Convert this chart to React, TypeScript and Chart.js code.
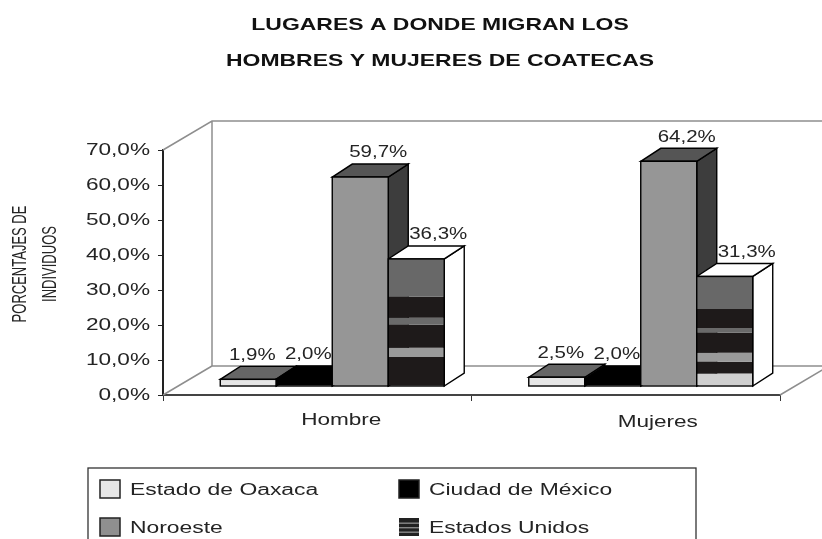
import React, { useEffect, useRef } from "react";
import { Chart, registerables } from "chart.js";

Chart.register(...registerables);

const categories = ["Hombre", "Mujeres"];
const yTickValues = [0, 10, 20, 30, 40, 50, 60, 70];
const oaxaca = [1.9, 2.5];
const ciudadMexico = [2.0, 2.0];
const noroeste = [59.7, 64.2];
// Estados Unidos is printed in bands; the band heights add up to the labelled totals
const usBase = [0, 3.6];
const usBand1 = [8.3, 3.3];
const usBand2 = [2.6, 2.6];
const usBand3 = [6.6, 5.7];
const usBand4 = [2.0, 1.4];
const usBand5 = [6.0, 5.4];
const usBand6 = [10.8, 9.3];
const usTotals = [36.3, 31.3];
const titleLines = ["LUGARES A DONDE MIGRAN LOS", "HOMBRES Y MUJERES DE COATECAS"];
const yTitleLines = ["PORCENTAJES DE", "INDIVIDUOS"];

const FONT = '"Liberation Sans", Arial, sans-serif';

const wideText = (
  ctx: CanvasRenderingContext2D,
  text: string,
  x: number,
  y: number,
  align: "left" | "center" | "right",
  stretch: number,
) => {
  ctx.save();
  ctx.translate(x, y);
  ctx.scale(stretch, 1);
  ctx.textAlign = align;
  ctx.textBaseline = "middle";
  ctx.fillText(text, 0, 0);
  ctx.restore();
};

const DX = 15;
const DY = -9;
const DEPTH_X = 20;
const DEPTH_Y = -13;
const WALL_X = 49;
const WALL_Y = -29;
const INK = "#242424";
const fmt = (v: number) => v.toFixed(1).replace(".", ",") + "%";

const poly = (ctx: CanvasRenderingContext2D, pts: number[][], fill: string) => {
  ctx.beginPath();
  pts.forEach((p, i) => (i ? ctx.lineTo(p[0], p[1]) : ctx.moveTo(p[0], p[1])));
  ctx.closePath();
  ctx.fillStyle = fill;
  ctx.fill();
  ctx.strokeStyle = "#000";
  ctx.lineWidth = 1.4;
  ctx.stroke();
};

const stackStyle: Record<string, { top: string; side: string; labelDx: number }> = {
  a: { top: "#666666", side: "#3a3a3a", labelDx: 4 },
  b: { top: "#000000", side: "#000000", labelDx: 4 },
  c: { top: "#555555", side: "#3d3d3d", labelDx: 18 },
  d: { top: "#ffffff", side: "#ffffff", labelDx: 22 },
};
const xLabelShift = [24, 32];
const xLabelY = [421, 423];

function drawFront(chart: any, di: number) {
  const { ctx } = chart;
  const ds = chart.data.datasets[di];
  const meta = chart.getDatasetMeta(di);
  meta.controller.draw();
  if (ds.outlineTotals) {
    meta.data.forEach((bar: any, i: number) => {
      const top = chart.scales.y.getPixelForValue(ds.outlineTotals[i]);
      const base = chart.scales.y.getPixelForValue(0);
      ctx.strokeStyle = "#000";
      ctx.lineWidth = 1.4;
      ctx.strokeRect(bar.x - bar.width / 2, top, bar.width, base - top);
    });
  }
}

const bars3d = {
  id: "bars3d",
  beforeDatasetsDraw(chart: any) {
    const { ctx, chartArea: a, scales } = chart;
    const { top: t, bottom: b, left: l, right: r } = a;
    const y = scales.y;
    ctx.save();
    ctx.strokeStyle = "#8e8e8e";
    ctx.lineWidth = 1.5;
    ctx.beginPath();
    ctx.moveTo(l, t); ctx.lineTo(l + WALL_X, t + WALL_Y); ctx.lineTo(822, t + WALL_Y);
    ctx.moveTo(l + WALL_X, t + WALL_Y); ctx.lineTo(l + WALL_X, b + WALL_Y); ctx.lineTo(822, b + WALL_Y);
    ctx.moveTo(l, b); ctx.lineTo(l + WALL_X, b + WALL_Y);
    ctx.moveTo(r, b); ctx.lineTo(r + WALL_X, b + WALL_Y);
    ctx.stroke();

    // depth faces first, left-hand series first, then every front on top of them
    ctx.translate(DX, DY);
    chart.data.datasets.forEach((ds: any, di: number) => {
      if (!ds.depthTotals) return;
      chart.getDatasetMeta(di).data.forEach((bar: any, i: number) => {
        const top = y.getPixelForValue(ds.depthTotals[i]);
        const base = y.getPixelForValue(0);
        const L = bar.x - bar.width / 2;
        const R = bar.x + bar.width / 2;
        const g = stackStyle[ds.stack];
        poly(ctx, [[R, top], [R + DEPTH_X, top + DEPTH_Y], [R + DEPTH_X, base + DEPTH_Y], [R, base]], g.side);
        poly(ctx, [[L, top], [R, top], [R + DEPTH_X, top + DEPTH_Y], [L + DEPTH_X, top + DEPTH_Y]], g.top);
      });
    });
    chart.data.datasets.forEach((_: any, di: number) => drawFront(chart, di));
    ctx.restore();

    ctx.save();
    ctx.fillStyle = INK;
    ctx.font = `16px ${FONT}`;
    chart.data.datasets.forEach((ds: any, di: number) => {
      if (!ds.depthTotals) return;
      chart.getDatasetMeta(di).data.forEach((bar: any, i: number) => {
        const top = y.getPixelForValue(ds.depthTotals[i]);
        wideText(ctx, fmt(ds.depthTotals[i]), bar.x + DX + stackStyle[ds.stack].labelDx, top + DY + DEPTH_Y - 11, "center", 1.28);
      });
    });
    ctx.restore();
    return false;
  },
  afterDraw(chart: any) {
    const { ctx, scales } = chart;
    ctx.save();
    ctx.fillStyle = "#111";
    ctx.font = `bold 17px ${FONT}`;
    titleLines.forEach((line, i) => wideText(ctx, line, 440, 25 + i * 36, "center", 1.35));
    ctx.fillStyle = INK;
    ctx.font = `17px ${FONT}`;
    scales.y.ticks.forEach((t: any, i: number) => {
      wideText(ctx, fmt(t.value), 150, scales.y.getPixelForTick(i), "right", 1.33);
    });
    ctx.font = `16px ${FONT}`;
    categories.forEach((c, i) => {
      wideText(ctx, c, scales.x.getPixelForTick(i) + xLabelShift[i], xLabelY[i], "center", 1.41);
    });
    ctx.font = `13px ${FONT}`;
    yTitleLines.forEach((line, i) => {
      ctx.save();
      ctx.translate(20 + i * 30, 264);
      ctx.rotate(-Math.PI / 2);
      ctx.scale(1, 1.55);
      ctx.textAlign = "center";
      ctx.textBaseline = "middle";
      ctx.fillText(line, 0, 0);
      ctx.restore();
    });
    ctx.strokeStyle = "#333";
    ctx.lineWidth = 1.3;
    ctx.strokeRect(88, 468, 608, 90);
    const items = [
      { label: "Estado de Oaxaca", x: 100, y: 489, fill: "#e6e6e6" },
      { label: "Ciudad de México", x: 399, y: 489, fill: "#000000" },
      { label: "Noroeste", x: 100, y: 527, fill: "#8f8f8f" },
      { label: "Estados Unidos", x: 399, y: 527, fill: "stripes" },
    ];
    ctx.font = `16px ${FONT}`;
    items.forEach((it) => {
      const w = 20;
      const h = 18;
      if (it.fill === "stripes") {
        ctx.fillStyle = "#222";
        ctx.fillRect(it.x, it.y - h / 2, w, h);
        ctx.fillStyle = "#888";
        for (let k = 1; k < 4; k++) ctx.fillRect(it.x, it.y - h / 2 + (k * h) / 4, w, 1.4);
      } else {
        ctx.fillStyle = it.fill;
        ctx.fillRect(it.x, it.y - h / 2, w, h);
        ctx.strokeStyle = "#222";
        ctx.lineWidth = 1.5;
        ctx.strokeRect(it.x, it.y - h / 2, w, h);
      }
      ctx.fillStyle = INK;
      wideText(ctx, it.label, it.x + w + 10, it.y + 2, "left", 1.43);
    });
    ctx.restore();
  },
};

export default function App() {
  const ref = useRef<HTMLCanvasElement>(null);
  useEffect(() => {
    document.body.style.margin = "0";
    const dark = "#1e1a1a";
    const band = (label: string, data: number[], color: string, extra = {}) => ({
      label, data, backgroundColor: color, stack: "d", borderWidth: 0, ...extra,
    });
    const chart = new Chart(ref.current as HTMLCanvasElement, {
      type: "bar",
      data: {
        labels: categories,
        datasets: [
          { label: "Estado de Oaxaca", data: oaxaca, backgroundColor: "#e6e6e6", stack: "a", depthTotals: oaxaca, outlineTotals: oaxaca },
          { label: "Ciudad de México", data: ciudadMexico, backgroundColor: "#000000", stack: "b", depthTotals: ciudadMexico, outlineTotals: ciudadMexico },
          { label: "Noroeste", data: noroeste, backgroundColor: "#969696", stack: "c", depthTotals: noroeste, outlineTotals: noroeste },
          band("Estados Unidos", usBase, "#cfcfcf"),
          band("Estados Unidos 1", usBand1, dark),
          band("Estados Unidos 2", usBand2, "#9a9a9a"),
          band("Estados Unidos 3", usBand3, dark),
          band("Estados Unidos 4", usBand4, "#6a6a6a"),
          band("Estados Unidos 5", usBand5, dark),
          band("Estados Unidos 6", usBand6, "#686868", { depthTotals: usTotals, outlineTotals: usTotals }),
        ] as any,
      },
      options: {
        animation: false,
        responsive: false,
        layout: { padding: { left: 163, right: 42, top: 150, bottom: 144 } },
        plugins: {
          legend: { display: false },
          tooltip: { enabled: false },
          title: { display: false },
        },
        scales: {
          x: {
            stacked: true,
            offset: true,
            afterFit: (s: any) => { s.height = 0; },
            grid: { drawOnChartArea: false, color: "#333", tickLength: 6, offset: true, lineWidth: 1 },
            border: { color: "#444", width: 2 },
            ticks: { display: false },
          } as any,
          y: {
            stacked: true,
            min: yTickValues[0],
            max: yTickValues[yTickValues.length - 1],
            afterFit: (s: any) => { s.width = 0; },
            grid: { drawOnChartArea: false, color: "#222", tickLength: 5 },
            border: { color: "#222", width: 2 },
            ticks: { stepSize: 10, display: false },
          } as any,
        },
        datasets: { bar: { categoryPercentage: 0.726, barPercentage: 1 } as any },
      } as any,
      plugins: [bars3d],
    });
    return () => chart.destroy();
  }, []);
  return <canvas ref={ref} width={822} height={539} style={{ display: "block" }} />;
}
